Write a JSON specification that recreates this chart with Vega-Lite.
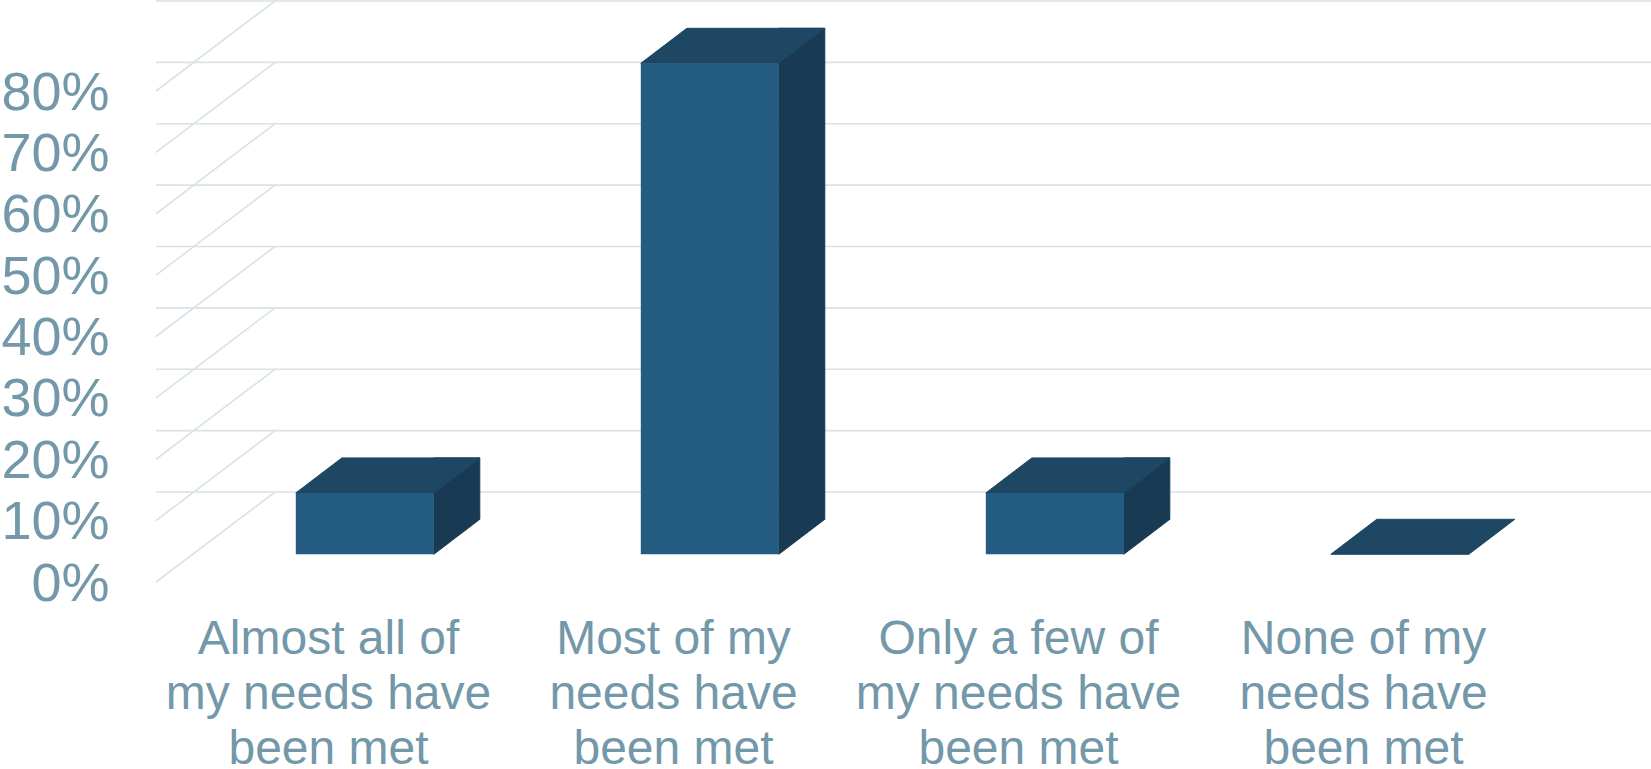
{
  "$schema": "https://vega.github.io/schema/vega-lite/v6.json",
  "autosize": {"type": "none"},
  "width": 1380,
  "height": 491,
  "padding": {"left": 156, "top": 91, "right": 115, "bottom": 187},
  "background": "white",
  "config": {
    "view": {"stroke": null},
    "axisX": {"labelFont": "Liberation Sans", "labelFontSize": 48, "labelColor": "#7398a9", "labelLineHeight": 55, "labelPadding": 33, "labelAngle": 0, "labelBaseline": "top", "labelLimit": 600, "labelOverlap": false, "ticks": false, "domain": false, "grid": false},
    "axisY": {"labelFont": "Liberation Sans", "labelFontSize": 54, "labelColor": "#7398a9", "labelPadding": 47, "labelOffset": 2, "ticks": false, "domain": false, "grid": false, "tickCount": 8, "format": ".0%", "labelOverlap": false, "labelBaseline": "middle"}
  },
  "datasets": {
    "needs": [
      {"need": "Almost all of my needs have been met", "share": 0.10},
      {"need": "Most of my needs have been met", "share": 0.80},
      {"need": "Only a few of my needs have been met", "share": 0.10},
      {"need": "None of my needs have been met", "share": 0.0}
    ],
    "levels": [
      {"level": 0}, {"level": 0.1}, {"level": 0.2}, {"level": 0.3}, {"level": 0.4},
      {"level": 0.5}, {"level": 0.6}, {"level": 0.7}, {"level": 0.8}
    ]
  },
  "layer": [
    {
      "data": {"name": "levels"},
      "mark": {"type": "rule", "color": "#d9e2e7", "strokeWidth": 1.6, "xOffset": 119, "x2Offset": 119, "yOffset": -90},
      "encoding": {
        "y": {"field": "level", "type": "quantitative", "scale": {"domain": [0, 0.8], "nice": false}, "title": null}
      }
    },
    {
      "data": {"name": "levels"},
      "mark": {"type": "point", "shape": "M0,0L119,-90", "size": 4, "filled": false, "color": "#d9e2e7", "strokeWidth": 1.6, "opacity": 1},
      "encoding": {
        "x": {"datum": "Almost all of my needs have been met", "type": "nominal", "bandPosition": 0, "scale": {"domain": ["Almost all of my needs have been met", "Most of my needs have been met", "Only a few of my needs have been met", "None of my needs have been met"], "paddingInner": 0, "paddingOuter": 0}, "title": null,
          "axis": {"labelExpr": "datum.value == 'Almost all of my needs have been met' ? ['Almost all of', 'my needs have', 'been met'] : datum.value == 'Most of my needs have been met' ? ['Most of my', 'needs have', 'been met'] : datum.value == 'Only a few of my needs have been met' ? ['Only a few of', 'my needs have', 'been met'] : ['None of my', 'needs have', 'been met']"}},
        "y": {"field": "level", "type": "quantitative", "scale": {"domain": [0, 0.8], "nice": false}, "title": null}
      }
    },
    {
      "data": {"name": "needs"},
      "transform": [{"filter": "datum.share > 0"}],
      "mark": {"type": "bar", "width": 46, "color": "#183b53", "stroke": "#183b53", "strokeWidth": 1, "xOffset": 128.3, "x2Offset": 128.3, "yOffset": -62.7, "y2Offset": -62.7},
      "encoding": {
        "x": {"field": "need", "type": "nominal", "sort": null, "scale": {"domain": ["Almost all of my needs have been met", "Most of my needs have been met", "Only a few of my needs have been met", "None of my needs have been met"], "paddingInner": 0, "paddingOuter": 0}, "title": null,
          "axis": {"labelExpr": "datum.value == 'Almost all of my needs have been met' ? ['Almost all of', 'my needs have', 'been met'] : datum.value == 'Most of my needs have been met' ? ['Most of my', 'needs have', 'been met'] : datum.value == 'Only a few of my needs have been met' ? ['Only a few of', 'my needs have', 'been met'] : ['None of my', 'needs have', 'been met']"}},
        "y": {"field": "share", "type": "quantitative", "scale": {"domain": [0, 0.8], "nice": false}, "title": null}
      }
    },
    {
      "data": {"name": "needs"},
      "transform": [{"filter": "datum.share > 0"}],
      "mark": {"type": "point", "shape": "M0,0L0,-35L46,-35Z", "size": 4, "filled": true, "color": "#183b53", "stroke": "#183b53", "strokeWidth": 1, "opacity": 1, "xOffset": 105.3, "yOffset": -27.7},
      "encoding": {
        "x": {"field": "need", "type": "nominal", "sort": null, "scale": {"domain": ["Almost all of my needs have been met", "Most of my needs have been met", "Only a few of my needs have been met", "None of my needs have been met"], "paddingInner": 0, "paddingOuter": 0}, "title": null,
          "axis": {"labelExpr": "datum.value == 'Almost all of my needs have been met' ? ['Almost all of', 'my needs have', 'been met'] : datum.value == 'Most of my needs have been met' ? ['Most of my', 'needs have', 'been met'] : datum.value == 'Only a few of my needs have been met' ? ['Only a few of', 'my needs have', 'been met'] : ['None of my', 'needs have', 'been met']"}},
        "y": {"datum": 0, "type": "quantitative", "scale": {"domain": [0, 0.8], "nice": false}, "title": null}
      }
    },
    {
      "data": {"name": "needs"},
      "mark": {"type": "point", "shape": "M0,0L138,0L184,-35L46,-35Z", "size": 4, "filled": true, "color": "#1d4763", "stroke": "#1d4763", "strokeWidth": 1, "opacity": 1, "xOffset": -32.7, "yOffset": -27.7},
      "encoding": {
        "x": {"field": "need", "type": "nominal", "sort": null, "scale": {"domain": ["Almost all of my needs have been met", "Most of my needs have been met", "Only a few of my needs have been met", "None of my needs have been met"], "paddingInner": 0, "paddingOuter": 0}, "title": null,
          "axis": {"labelExpr": "datum.value == 'Almost all of my needs have been met' ? ['Almost all of', 'my needs have', 'been met'] : datum.value == 'Most of my needs have been met' ? ['Most of my', 'needs have', 'been met'] : datum.value == 'Only a few of my needs have been met' ? ['Only a few of', 'my needs have', 'been met'] : ['None of my', 'needs have', 'been met']"}},
        "y": {"field": "share", "type": "quantitative", "scale": {"domain": [0, 0.8], "nice": false}, "title": null}
      }
    },
    {
      "data": {"name": "needs"},
      "transform": [{"filter": "datum.share > 0"}],
      "mark": {"type": "bar", "width": 138, "color": "#245c81", "xOffset": 36.3, "x2Offset": 36.3, "yOffset": -27.7, "y2Offset": -27.7},
      "encoding": {
        "x": {"field": "need", "type": "nominal", "sort": null, "scale": {"domain": ["Almost all of my needs have been met", "Most of my needs have been met", "Only a few of my needs have been met", "None of my needs have been met"], "paddingInner": 0, "paddingOuter": 0}, "title": null,
          "axis": {"labelExpr": "datum.value == 'Almost all of my needs have been met' ? ['Almost all of', 'my needs have', 'been met'] : datum.value == 'Most of my needs have been met' ? ['Most of my', 'needs have', 'been met'] : datum.value == 'Only a few of my needs have been met' ? ['Only a few of', 'my needs have', 'been met'] : ['None of my', 'needs have', 'been met']"}},
        "y": {"field": "share", "type": "quantitative", "scale": {"domain": [0, 0.8], "nice": false}, "title": null}
      }
    }
  ]
}
